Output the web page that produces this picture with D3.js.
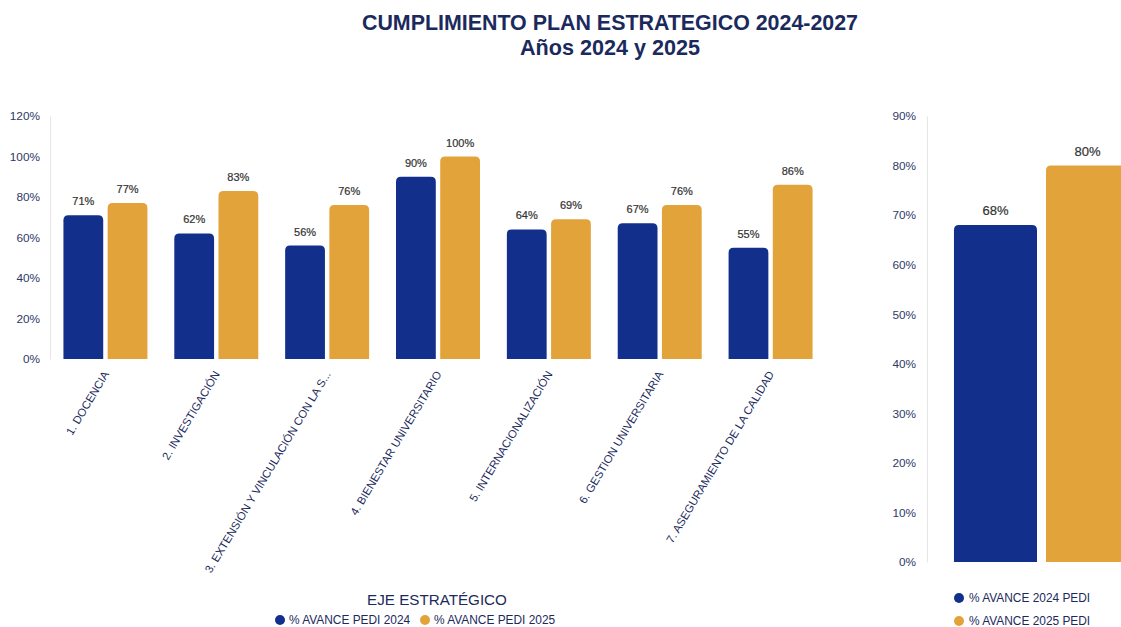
<!DOCTYPE html>
<html><head><meta charset="utf-8">
<script src="https://cdn.jsdelivr.net/npm/d3@7"></script>
<style>
html,body{margin:0;padding:0;background:#fff;}
svg{display:block;font-family:"Liberation Sans",Arial,sans-serif;}
</style></head>
<body><svg id="c" width="1121" height="627"></svg>
<script>
const categories = ["1. DOCENCIA","2. INVESTIGACIÓN","3. EXTENSIÓN Y VINCULACIÓN CON LA S...","4. BIENESTAR UNIVERSITARIO","5. INTERNACIONALIZACIÓN","6. GESTION UNIVERSITARIA","7. ASEGURAMIENTO DE LA CALIDAD"];
const series = ["% AVANCE PEDI 2024","% AVANCE PEDI 2025"];
const values2024 = [71,62,56,90,64,67,55];
const values2025 = [77,83,76,100,69,76,86];
const leftTicks = [0,20,40,60,80,100,120];
const totalSeries = ["% AVANCE 2024 PEDI","% AVANCE 2025 PEDI"];
const totalValues = [68,80];
const rightTicks = [0,10,20,30,40,50,60,70,80,90];
const colors = ["#12308B","#E3A33B"];
const navy = "#1B2A5C";
const tickColor = "#2E3A68";

const svg = d3.select("#c");

// Title
svg.append("text").attr("x",610).attr("y",30).attr("text-anchor","middle")
  .attr("font-size",21.4).attr("font-weight","bold").attr("fill",navy)
  .text("CUMPLIMIENTO PLAN ESTRATEGICO 2024-2027");
svg.append("text").attr("x",610).attr("y",55).attr("text-anchor","middle")
  .attr("font-size",21.6).attr("font-weight","bold").attr("fill",navy)
  .text("Años 2024 y 2025");

function topRounded(x,y,w,h,r){
  r=Math.min(r,h,w/2);
  return `M${x},${y+h}V${y+r}Q${x},${y} ${x+r},${y}H${x+w-r}Q${x+w},${y} ${x+w},${y+r}V${y+h}Z`;
}

// ---------- Left chart ----------
const L = {left:50,right:826,top:116,bottom:359};
const x0 = d3.scaleBand().domain(categories).range([L.left,L.right]).paddingInner(0.2424).paddingOuter(0.1212);
const x1 = d3.scaleBand().domain(series).range([0,x0.bandwidth()]).paddingInner(0.1);
const y = d3.scaleLinear().domain([0,120]).range([L.bottom,L.top]);

const gL = svg.append("g");
const yAx = gL.append("g").attr("transform",`translate(${L.left},0)`)
  .call(d3.axisLeft(y).tickValues(leftTicks).tickFormat(d=>d+"%").tickSize(0).tickPadding(10));
yAx.select(".domain").attr("stroke","#e6e6e6");
yAx.selectAll("text").attr("font-size",11.8).attr("fill",tickColor).attr("font-family","Liberation Sans, Arial, sans-serif");

const rows = categories.map((c,i)=>({c, vals:[values2024[i],values2025[i]]}));
const grp = gL.selectAll("g.grp").data(rows).join("g").attr("class","grp")
  .attr("transform",d=>`translate(${x0(d.c)},0)`);
grp.selectAll("path").data(d=>d.vals.map((v,j)=>({s:series[j],v,j}))).join("path")
  .attr("d",d=>topRounded(x1(d.s),y(d.v),x1.bandwidth(),L.bottom-y(d.v),5))
  .attr("fill",d=>colors[d.j]);
grp.selectAll("text.val").data(d=>d.vals.map((v,j)=>({s:series[j],v,j}))).join("text").attr("class","val")
  .attr("x",d=>x1(d.s)+x1.bandwidth()/2).attr("y",d=>y(d.v)-10)
  .attr("text-anchor","middle").attr("font-size",11).attr("fill","#333")
  .attr("stroke","#333").attr("stroke-width",0.2)
  .text(d=>d.v+"%");

const xAx = gL.append("g").attr("transform",`translate(0,${L.bottom})`)
  .call(d3.axisBottom(x0).tickSize(0).tickPadding(0));
xAx.select(".domain").remove();
xAx.selectAll("text").attr("font-size",11.3).attr("fill",navy)
  .attr("font-family","Liberation Sans, Arial, sans-serif")
  .attr("text-anchor","end").attr("dy",0)
  .attr("transform","translate(4,15) rotate(-59)");

svg.append("text").attr("x",437).attr("y",605).attr("text-anchor","middle")
  .attr("font-size",15.2).attr("fill",navy).text("EJE ESTRATÉGICO");

const legL = svg.append("g").attr("transform","translate(280,620)");
const legItems = legL.selectAll("g").data(series).join("g")
  .attr("transform",(d,i)=>`translate(${i*145},0)`);
legItems.append("circle").attr("r",5).attr("cy",0).attr("fill",(d,i)=>colors[i]);
legItems.append("text").attr("x",9).attr("y",4).attr("font-size",11.9).attr("fill",navy).text(d=>d);

// ---------- Right chart ----------
const R = {left:927,right:1156,top:116,bottom:562};
const xr0 = d3.scaleBand().domain(["TOTAL"]).range([R.left,R.right]).paddingInner(0).paddingOuter(0.154);
const xr1 = d3.scaleBand().domain(totalSeries).range([0,xr0.bandwidth()]).paddingInner(0.0978);
const yr = d3.scaleLinear().domain([0,90]).range([R.bottom,R.top]);

const gR = svg.append("g");
const yrAx = gR.append("g").attr("transform",`translate(${R.left},0)`)
  .call(d3.axisLeft(yr).tickValues(rightTicks).tickFormat(d=>d+"%").tickSize(0).tickPadding(11));
yrAx.select(".domain").attr("stroke","#e6e6e6");
yrAx.selectAll("text").attr("font-size",11.8).attr("fill",tickColor).attr("font-family","Liberation Sans, Arial, sans-serif");

const gRb = gR.append("g").attr("transform",`translate(${xr0("TOTAL")},0)`);
const rdata = totalSeries.map((s,j)=>({s,v:totalValues[j],j}));
gRb.selectAll("path").data(rdata).join("path")
  .attr("d",d=>topRounded(xr1(d.s),yr(d.v),xr1.bandwidth(),R.bottom-yr(d.v),5))
  .attr("fill",d=>colors[d.j]);
gRb.selectAll("text").data(rdata).join("text")
  .attr("x",d=>xr1(d.s)+xr1.bandwidth()/2).attr("y",d=>yr(d.v)-10)
  .attr("text-anchor","middle").attr("font-size",13).attr("fill","#333")
  .attr("stroke","#333").attr("stroke-width",0.2)
  .text(d=>d.v+"%");

const legR = svg.append("g").attr("transform","translate(959,598)");
const legRItems = legR.selectAll("g").data(totalSeries).join("g")
  .attr("transform",(d,i)=>`translate(0,${i*23})`);
legRItems.append("circle").attr("r",5).attr("fill",(d,i)=>colors[i]);
legRItems.append("text").attr("x",10).attr("y",4).attr("font-size",11.9).attr("fill",navy).text(d=>d);
</script>
</body></html>
